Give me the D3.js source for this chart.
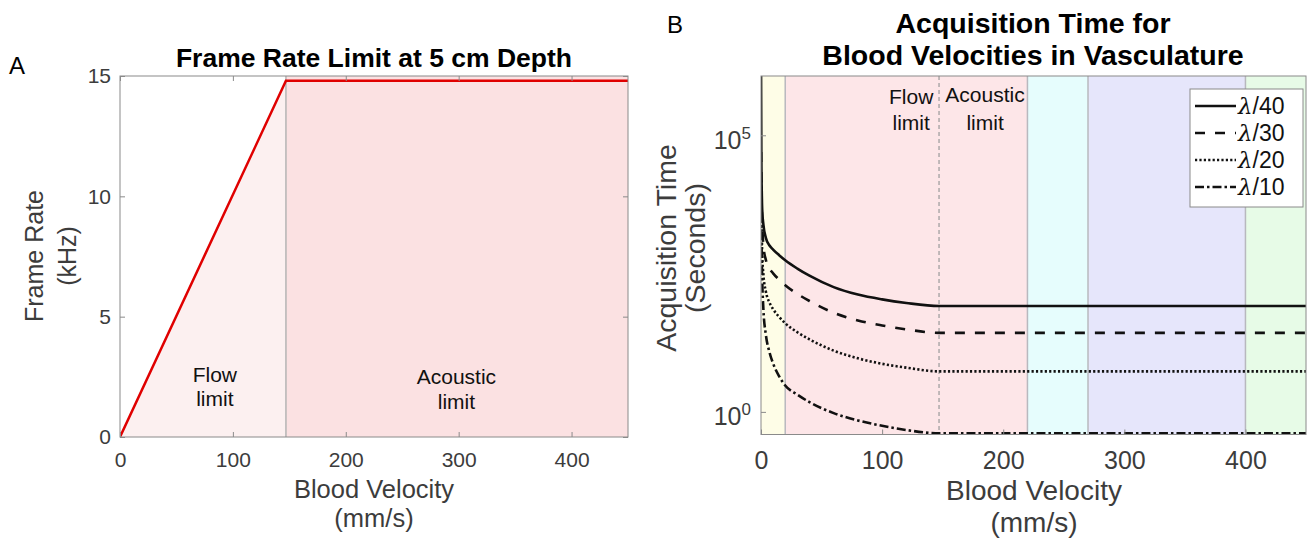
<!DOCTYPE html>
<html>
<head>
<meta charset="utf-8">
<script src="https://cdn.jsdelivr.net/npm/d3@7"></script>
<style>
  html, body { margin: 0; padding: 0; background: #fff; }
  svg { display: block; }
</style>
</head>
<body>
<svg id="chart" width="1312" height="543"></svg>
<script>
// ---------------- DATA ----------------
// Panel A: frame rate limit at 5 cm depth
const velocityA = [0, 147, 450];          // mm/s
const frameRateKHz = [0, 14.8, 14.8];     // kHz
const flowLimitVelocity = 147;            // mm/s, flow / acoustic boundary
const xTickValues = [0, 100, 200, 300, 400];
const yTickValuesA = [0, 5, 10, 15];
const regionLabelsA = ["Flow\nlimit", "Acoustic\nlimit"];

// Panel B: acquisition time for blood velocities
const velocityB = [0.05, 0.3, 0.7, 1, 2, 4, 7, 10, 15, 20, 30, 40, 60, 80, 100, 120, 147, 450];
const timeLambda40 = [1.2e6, 40000, 8000, 4500, 2400, 1400, 1020, 860, 680, 551, 390, 290, 180, 132, 108, 93, 82, 82];
const timeLambda30 = [50000, 12000, 4000, 2500, 1000, 560, 390, 320, 245, 195, 136, 101, 62, 45, 36.5, 31, 26.8, 26.8];
const timeLambda20 = [15000, 4000, 1300, 700, 300, 150, 95, 72, 52, 40, 27.5, 20.5, 12.8, 9.3, 7.4, 6.3, 5.4, 5.4];
const timeLambda10 = [8000, 2000, 500, 250, 70, 25, 12, 7.5, 4.4, 3.0, 2.05, 1.5, 0.95, 0.7, 0.56, 0.47, 0.41, 0.41];
const seriesNames = ["λ/40", "λ/30", "λ/20", "λ/10"];
const bandStart = [0, 20, 220, 270, 400];   // vessel velocity bands (mm/s)
const bandEnd   = [20, 220, 270, 400, 450];
const yTickValuesB = [1, 1e5];
const yTickExponentsB = ["0", "5"];

// ---------------- STYLE ----------------
const FONT = "'Liberation Sans', Arial, Helvetica, sans-serif";
const AXIS_GRAY = "#8a8a8a";
const TEXT_GRAY = "#3c3c3c";
const bandColors = ["#fefde7", "#fde6e8", "#e6fdfd", "#e6e6fb", "#e7fbe7"];
const dashPatterns = [null, "10,10", "2.2,2.2", "9,3,2.5,3"];

const svg = d3.select("#chart");
svg.append("rect").attr("width", 1312).attr("height", 543).attr("fill", "#fff");

function txt(g, x, y, s, opt = {}) {
  return g.append("text")
    .attr("x", x).attr("y", y)
    .attr("font-family", FONT)
    .attr("font-size", opt.size || 20)
    .attr("font-weight", opt.weight || "normal")
    .attr("fill", opt.fill || TEXT_GRAY)
    .attr("text-anchor", opt.anchor || "middle")
    .text(s);
}

// =============== PANEL A ===============
const A = { left: 120, right: 628, top: 76, bottom: 437 };
const xA = d3.scaleLinear().domain([0, 450]).range([A.left, A.right]);
const yA = d3.scaleLinear().domain([0, 15]).range([A.bottom, A.top]);
const gA = svg.append("g");

svg.append("clipPath").attr("id", "clipA").append("rect")
  .attr("x", A.left).attr("y", A.top).attr("width", A.right - A.left).attr("height", A.bottom - A.top);

const ptsA = velocityA.map((v, i) => ({ v, r: frameRateKHz[i] }));
const plotA = gA.append("g").attr("clip-path", "url(#clipA)");

// acoustic region (full height)
plotA.append("rect")
  .attr("x", xA(flowLimitVelocity)).attr("y", A.top)
  .attr("width", xA(450) - xA(flowLimitVelocity)).attr("height", A.bottom - A.top)
  .attr("fill", "#fbe1e2");
// flow region (under the line)
plotA.append("path")
  .datum(ptsA.filter(d => d.v <= flowLimitVelocity))
  .attr("d", d3.area().x(d => xA(d.v)).y0(yA(0)).y1(d => yA(d.r)))
  .attr("fill", "#fcf0f0");
plotA.append("line")
  .attr("x1", xA(flowLimitVelocity)).attr("x2", xA(flowLimitVelocity))
  .attr("y1", A.top).attr("y2", A.bottom)
  .attr("stroke", "#b4b4b4").attr("stroke-width", 1.5);
plotA.append("path")
  .datum(ptsA)
  .attr("d", d3.line().x(d => xA(d.v)).y(d => yA(d.r)))
  .attr("fill", "none").attr("stroke", "#e00000").attr("stroke-width", 2.5);

// axes A
function styleAxis(g, size) {
  g.select(".domain").remove();
  g.selectAll(".tick line").attr("stroke", AXIS_GRAY);
  g.selectAll(".tick text").attr("font-family", FONT).attr("font-size", size).attr("fill", TEXT_GRAY);
}
gA.append("g").attr("transform", `translate(0,${A.bottom})`)
  .call(d3.axisBottom(xA).tickValues(xTickValues).tickSize(-5).tickPadding(15))
  .call(g => styleAxis(g, 21));
gA.append("g").attr("transform", `translate(0,${A.top})`)
  .call(d3.axisTop(xA).tickValues(xTickValues).tickSize(-5).tickFormat(""))
  .call(g => styleAxis(g, 21));
gA.append("g").attr("transform", `translate(${A.left},0)`)
  .call(d3.axisLeft(yA).tickValues(yTickValuesA).tickSize(-5).tickPadding(9))
  .call(g => styleAxis(g, 21));
gA.append("g").attr("transform", `translate(${A.right},0)`)
  .call(d3.axisRight(yA).tickValues(yTickValuesA).tickSize(-5).tickFormat(""))
  .call(g => styleAxis(g, 21));
gA.append("rect")
  .attr("x", A.left).attr("y", A.top).attr("width", A.right - A.left).attr("height", A.bottom - A.top)
  .attr("fill", "none").attr("stroke", AXIS_GRAY).attr("stroke-width", 1);

// region labels A
const labA = [[84, 2.3], [298, 2.2]];
regionLabelsA.forEach((s, i) => {
  const lines = s.split("\n");
  lines.forEach((ln, j) => txt(gA, xA(labA[i][0]), yA(labA[i][1]) + j * 24.5, ln, { size: 21, fill: "#111" }));
});

// titles / labels A
txt(gA, 374, 67, "Frame Rate Limit at 5 cm Depth", { size: 26.5, weight: "bold", fill: "#000" });
txt(gA, 9, 74, "A", { size: 24, anchor: "start", fill: "#000" });
txt(gA, 374, 498, "Blood Velocity", { size: 25.5 });
txt(gA, 374, 527, "(mm/s)", { size: 25.5 });
txt(gA, 0, 0, "Frame Rate", { size: 25 }).attr("transform", "translate(43,256) rotate(-90)");
txt(gA, 0, 0, "(kHz)", { size: 25 }).attr("transform", "translate(76,256) rotate(-90)");

// =============== PANEL B ===============
const B = { left: 761, right: 1306, top: 76, bottom: 434.5 };
const xB = d3.scaleLinear().domain([0, 450]).range([B.left, B.right]);
const yB = d3.scaleLog().domain([0.39, 1.18e6]).range([B.bottom, B.top]);
const gB = svg.append("g");
svg.append("clipPath").attr("id", "clipB").append("rect")
  .attr("x", B.left).attr("y", B.top).attr("width", B.right - B.left).attr("height", B.bottom - B.top);
const plotB = gB.append("g").attr("clip-path", "url(#clipB)");

bandStart.forEach((s, i) => {
  plotB.append("rect")
    .attr("x", xB(s)).attr("y", B.top)
    .attr("width", xB(bandEnd[i]) - xB(s)).attr("height", B.bottom - B.top)
    .attr("fill", bandColors[i]);
});
bandStart.slice(1).forEach(s => {
  plotB.append("line")
    .attr("x1", xB(s)).attr("x2", xB(s)).attr("y1", B.top).attr("y2", B.bottom)
    .attr("stroke", "#b8b8be").attr("stroke-width", 1.5);
});
plotB.append("line")
  .attr("x1", xB(flowLimitVelocity)).attr("x2", xB(flowLimitVelocity))
  .attr("y1", B.top).attr("y2", B.bottom)
  .attr("stroke", "#9a9a9a").attr("stroke-width", 1.2).attr("stroke-dasharray", "4,3");

const seriesB = [timeLambda40, timeLambda30, timeLambda20, timeLambda10];
const lineB = d3.line().x(d => xB(d.v)).y(d => yB(d.t)).curve(d3.curveMonotoneX);
seriesB.forEach((vals, i) => {
  const pts = velocityB.map((v, k) => ({ v, t: vals[k] }));
  const p = plotB.append("path").datum(pts).attr("d", lineB)
    .attr("fill", "none").attr("stroke", "#111").attr("stroke-width", 2.6);
  if (dashPatterns[i]) p.attr("stroke-dasharray", dashPatterns[i]);
});

// axes B
gB.append("g").attr("transform", `translate(0,${B.bottom})`)
  .call(d3.axisBottom(xB).tickValues(xTickValues).tickSize(-5).tickPadding(17))
  .call(g => styleAxis(g, 25));
gB.append("g").attr("transform", `translate(${B.left},0)`)
  .call(d3.axisLeft(yB).tickValues(yTickValuesB).tickSize(-5).tickFormat(""))
  .call(g => styleAxis(g, 24));
gB.append("rect")
  .attr("x", B.left).attr("y", B.top).attr("width", B.right - B.left).attr("height", B.bottom - B.top)
  .attr("fill", "none").attr("stroke", AXIS_GRAY).attr("stroke-width", 1);
// log tick labels 10^n
yTickValuesB.forEach((v, i) => {
  const t = gB.append("text")
    .attr("x", 751).attr("y", yB(v) + 13.5)
    .attr("font-family", FONT).attr("font-size", 25).attr("fill", TEXT_GRAY)
    .attr("text-anchor", "end");
  t.append("tspan").text("10");
  t.append("tspan").attr("dy", -10).attr("font-size", 17).text(yTickExponentsB[i]);
});

// region labels B
const fl = [[124, 103.5, "Flow"], [124, 129.5, "limit"], [185, 102, "Acoustic"], [185, 129.5, "limit"]];
fl.forEach(d => txt(gB, xB(d[0]), d[1], d[2], { size: 21, fill: "#111" }));

// legend
const leg = gB.append("g");
leg.append("rect").attr("x", 1190).attr("y", 89).attr("width", 113).attr("height", 118)
  .attr("fill", "#fff").attr("stroke", "#8a8a8a").attr("stroke-width", 1);
seriesNames.forEach((name, i) => {
  const cy = 106 + i * 27;
  const l = leg.append("line").attr("x1", 1195).attr("x2", 1236).attr("y1", cy).attr("y2", cy)
    .attr("stroke", "#111").attr("stroke-width", 2.4);
  if (dashPatterns[i]) l.attr("stroke-dasharray", dashPatterns[i]);
  const t = leg.append("text").attr("x", 1238).attr("y", cy + 8)
    .attr("font-family", FONT).attr("font-size", 23).attr("fill", "#111");
  t.append("tspan").attr("font-family", "'DejaVu Serif', serif").attr("font-style", "italic").text(name[0]);
  t.append("tspan").text(name.slice(1));
});

// titles / labels B
txt(gB, 1033, 33, "Acquisition Time for", { size: 28.5, weight: "bold", fill: "#000" });
txt(gB, 1033, 65, "Blood Velocities in Vasculature", { size: 28.5, weight: "bold", fill: "#000" });
txt(gB, 667, 33, "B", { size: 24, anchor: "start", fill: "#000" });
txt(gB, 1034, 500, "Blood Velocity", { size: 28 });
txt(gB, 1034, 532, "(mm/s)", { size: 28 });
txt(gB, 0, 0, "Acquisition Time", { size: 28.5 }).attr("transform", "translate(676,248) rotate(-90)");
txt(gB, 0, 0, "(Seconds)", { size: 28.5 }).attr("transform", "translate(705,248) rotate(-90)");
</script>
</body>
</html>
